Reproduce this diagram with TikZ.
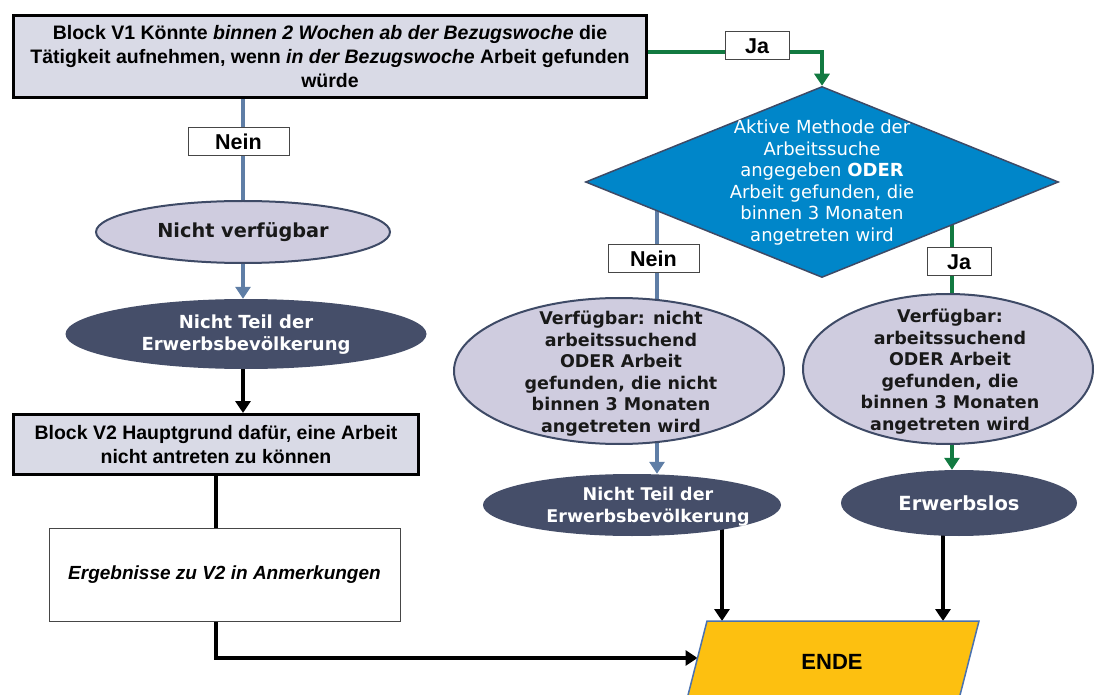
\documentclass[tikz,border=0pt]{standalone}
\usepackage{fontspec}
\setmainfont{Liberation Sans}
\newfontfamily\verd{DejaVu Sans}
\usetikzlibrary{shapes.geometric,arrows.meta,backgrounds}

\definecolor{boxfill}{RGB}{217,218,230}
\definecolor{lightfill}{RGB}{207,204,223}
\definecolor{darkfill}{RGB}{69,78,105}
\definecolor{decfill}{RGB}{0,134,201}
\definecolor{slate}{RGB}{62,74,102}
\definecolor{bluegray}{RGB}{95,126,166}
\definecolor{fgreen}{RGB}{18,122,65}
\definecolor{gold}{RGB}{253,192,16}
\definecolor{goldedge}{RGB}{74,114,176}
\definecolor{tagedge}{RGB}{70,70,70}

\begin{document}
\begin{tikzpicture}[x=1pt,y=-1pt,
  block/.style={draw=black, line width=3pt, fill=boxfill, align=center, inner sep=0pt,
    font=\fontsize{19.5}{24}\selectfont\bfseries},
  notebox/.style={draw=tagedge, line width=1pt, fill=white, inner sep=0pt,
    font=\fontsize{19}{24}\selectfont\bfseries\itshape},
  tag/.style={draw=tagedge, line width=1pt, fill=white, inner sep=0pt,
    font=\fontsize{21.5}{24}\selectfont\bfseries},
  lightell/.style={ellipse, draw=slate, line width=2pt, fill=lightfill, inner sep=0pt},
  darkell/.style={ellipse, draw=none, fill=darkfill, inner sep=0pt},
  decision/.style={diamond, draw=slate, line width=1.5pt, fill=decfill, inner sep=0pt},
  elltext/.style={align=center, inner sep=0pt, text=black!90,
    font=\verd\bfseries\fontsize{17.5}{21.5}\selectfont},
  darktext/.style={elltext, text=white},
  dectext/.style={align=center, inner sep=0pt, text=white,
    font=\verd\fontsize{18}{21.6}\selectfont},
  link/.style={line width=4pt},
  bluelink/.style={link, draw=bluegray},
  greenlink/.style={link, draw=fgreen},
  blacklink/.style={link, draw=black},
  tip/.style={-{Triangle[length=12pt,width=15pt]}}
]
\useasboundingbox (0,0) rectangle (1096,695);

% left column
\node[block, minimum width=633pt, minimum height=82pt] (v1) at (330,56.5)
  {Block V1 Könnte \textit{binnen 2 Wochen ab der Bezugswoche} die\\
   Tätigkeit aufnehmen, wenn \textit{in der Bezugswoche} Arbeit gefunden\\
   würde};
\node[lightell, minimum width=294pt, minimum height=62pt] (nv) at (243,232) {};
\node[elltext, font=\verd\bfseries\fontsize{19.3}{22}\selectfont] (nvt) at (243,232.5) {Nicht verfügbar};
\node[darkell, minimum width=361pt, minimum height=70pt] (nt1) at (246,334) {};
\node[darktext, font=\verd\bfseries\fontsize{18}{22}\selectfont] (nt1t) at (246,335) {Nicht Teil der\\ Erwerbsbevölkerung};
\node[block, minimum width=405pt, minimum height=60pt] (v2) at (216,444.5)
  {Block V2 Hauptgrund dafür, eine Arbeit\\ nicht antreten zu können};
\node[notebox, minimum width=351pt, minimum height=93pt] (erg) at (224.5,574.5)
  {Ergebnisse zu V2 in Anmerkungen};

% decision and right branches
\node[decision, minimum width=473pt, minimum height=191pt] (dia) at (822,182) {};
\node[dectext] (diat) at (822,182.5)
  {Aktive Methode der\\ Arbeitssuche\\ angegeben \textbf{ODER}\\
   Arbeit gefunden, die\\ binnen 3 Monaten\\ angetreten wird};
\node[lightell, minimum width=330pt, minimum height=146pt] (av1) at (619,371) {};
\node[elltext] (av1t) at (621,373.5)
  {Verfügbar: nicht\\ arbeitssuchend\\ ODER Arbeit\\ gefunden, die nicht\\
   binnen 3 Monaten\\ angetreten wird};
\node[lightell, minimum width=290pt, minimum height=150pt] (av2) at (948,369) {};
\node[elltext] (av2t) at (950,371.5)
  {Verfügbar:\\ arbeitssuchend\\ ODER Arbeit\\ gefunden, die\\
   binnen 3 Monaten\\ angetreten wird};
\node[darkell, minimum width=298pt, minimum height=62pt] (nt2) at (632,505) {};
\node[darktext] (nt2t) at (648,506.5) {Nicht Teil der\\ Erwerbsbevölkerung};
\node[darkell, minimum width=236pt, minimum height=66pt] (el) at (959,503) {};
\node[darktext, font=\verd\bfseries\fontsize{19.5}{22}\selectfont] (elt) at (959,503.5) {Erwerbslos};

% end symbol
\coordinate (e1) at (707,621);
\coordinate (e2) at (979,621);
\coordinate (e3) at (958,703);
\coordinate (e4) at (686,703);
\begin{scope}
  \clip (0,0) rectangle (1096,695);
  \draw[fill=gold, draw=goldedge, line width=1.5pt] (e1) -- (e2) -- (e3) -- (e4) -- cycle;
\end{scope}
\node[font=\fontsize{22}{24}\selectfont\bfseries] (ende) at (832,662) {ENDE};
\coordinate (eL) at (697.5,658);

% columns of the vertical connectors
\coordinate (cL) at (657,0);
\coordinate (cR) at (952,0);
\coordinate (cA) at (722,0);
\coordinate (cB) at (943,0);

% connectors
\begin{scope}[on background layer]
  \draw[greenlink, tip] ([yshift=4.5pt]v1.east) -| (dia.north);
  \draw[bluelink] (nv.north |- v1.south) -- (nv.north);
  \draw[bluelink, tip] (nv.south) -- (nv.south |- nt1.north);
  \draw[blacklink, tip] (nv.south |- nt1.south) -- (nv.south |- v2.north);
  \draw[blacklink] (v2.south) -- (v2.south |- erg.north);
  \draw[blacklink, tip] (v2.south |- erg.south) |- (eL);
  \draw[bluelink] (cL |- dia.center) -- (cL |- av1.center);
  \draw[bluelink, tip] (cL |- av1.center) -- (cL |- nt2.north);
  \draw[greenlink] (cR |- dia.center) -- (cR |- av2.center);
  \draw[greenlink, tip] (cR |- av2.center) -- (cR |- el.north);
  \draw[blacklink, tip] (cA |- nt2.center) -- (cA |- e1);
  \draw[blacklink, tip] (cB |- el.center) -- (cB |- e1);
\end{scope}

% branch labels
\node[tag, minimum width=101pt, minimum height=28pt] (nein1) at (238.5,142) {Nein};
\node[tag, minimum width=64pt, minimum height=28pt] (ja1) at (757,46) {Ja};
\node[tag, minimum width=91pt, minimum height=28pt] (nein2) at (653.5,259) {Nein};
\node[tag, minimum width=64pt, minimum height=28pt] (ja2) at (959,262) {Ja};
\end{tikzpicture}
\end{document}
